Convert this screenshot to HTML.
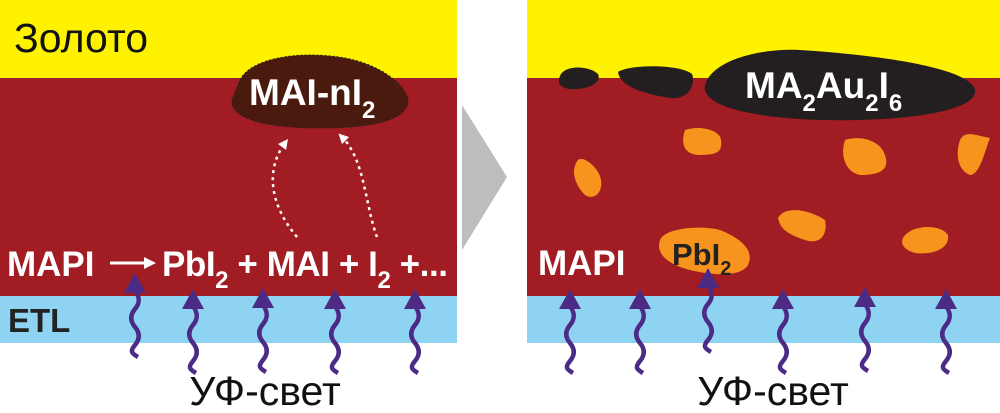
<!DOCTYPE html>
<html><head><meta charset="utf-8"><style>
html,body{margin:0;padding:0;background:#fff}
svg{display:block}
text{font-family:"Liberation Sans",Arial,sans-serif}
</style></head><body>
<svg width="1000" height="413" viewBox="0 0 1000 413" xmlns="http://www.w3.org/2000/svg">
<defs>
<g id="uv">
<path d="M0 17 C5 24,5 30,0 36 S-5 48,0 54 S5 66,0 72 S-4 80,3 84" fill="none" stroke="#4b2b86" stroke-width="4.5"/>
<polygon points="0,0 -11,20 11,20" fill="#4b2b86"/>
</g>
<marker id="ah" markerWidth="4" markerHeight="4" refX="2" refY="2" orient="auto"><path d="M0,0 L4,2 L0,4 Z" fill="#fff"/></marker>
</defs>
<rect x="0" y="0" width="457" height="78" fill="#fff200"/>
<rect x="0" y="78" width="457" height="218" fill="#a11c23"/>
<rect x="0" y="296" width="457" height="47" fill="#8fd3f3"/>
<rect x="527" y="0" width="473" height="78" fill="#fff200"/>
<rect x="527" y="78" width="473" height="218" fill="#a11c23"/>
<rect x="527" y="296" width="473" height="47" fill="#8fd3f3"/>
<polygon points="462,105 507,177 462,250" fill="#bcbdbf"/>
<text x="14" y="52" font-size="41" fill="#111">Золото</text>
<path d="M240 80 C250 60,290 52,330 56 C380 60,410 88,408 103 C405 118,380 128,320 128 C270 128,230 120,232 100 Z" fill="#4a1a0f" stroke="#222" stroke-width="1" stroke-dasharray="2 2"/>
<text x="249" y="105" font-size="37" font-weight="bold" fill="#fff">MAI-nI<tspan font-size="24" dy="13">2</tspan></text>
<path d="M297 237 C270 205,265 170,285 143" fill="none" stroke="#fff" stroke-width="2.5" stroke-dasharray="3 4" marker-end="url(#ah)"/>
<path d="M377 237 C365 205,365 160,342 137" fill="none" stroke="#fff" stroke-width="2.5" stroke-dasharray="3 4" marker-end="url(#ah)"/>
<text x="7" y="276" font-size="35" font-weight="bold" fill="#fff">MAPI</text>
<line x1="110" y1="263" x2="146" y2="263" stroke="#fff" stroke-width="3"/>
<polygon points="144,257 156,263 144,269" fill="#fff"/>
<text x="162" y="276" font-size="35" font-weight="bold" fill="#fff" textLength="286">PbI<tspan font-size="24" dy="12">2</tspan><tspan dy="-12"> + MAI + I</tspan><tspan font-size="24" dy="12">2</tspan><tspan dy="-12"> +...</tspan></text>
<text x="8" y="332" font-size="33" font-weight="bold" fill="#222">ETL</text>
<use href="#uv" x="135" y="273"/>
<use href="#uv" x="193" y="289"/>
<use href="#uv" x="263" y="288"/>
<use href="#uv" x="335" y="289"/>
<use href="#uv" x="415" y="289"/>
<text x="265" y="405" font-size="41" fill="#111" text-anchor="middle">УФ-свет</text>
<path d="M560 76 C565 64,590 66,598 74 C602 82,590 90,570 89 C560 88,557 82,560 76 Z" fill="#231f20"/>
<path d="M618 72 C630 64,680 64,692 74 C696 85,688 100,670 98 C650 95,620 88,618 72 Z" fill="#231f20"/>
<path d="M705 85 C712 60,760 48,800 50 C880 55,970 68,975 90 C978 112,900 122,820 120 C760 118,700 108,705 85 Z" fill="#231f20"/>
<text x="745" y="98" font-size="37" font-weight="bold" fill="#fff">MA<tspan font-size="24" dy="13">2</tspan><tspan dy="-13">Au</tspan><tspan font-size="24" dy="13">2</tspan><tspan dy="-13">I</tspan><tspan font-size="24" dy="13">6</tspan></text>
<g fill="#f7941d">
<path d="M685 130 C700 125,720 130,721 140 C722 150,720 155,700 155 C685 155,680 145,685 130 Z"/>
<path d="M578 160 C585 155,600 170,601 180 C603 195,592 200,585 195 C575 185,570 170,578 160 Z"/>
<path d="M845 140 C860 135,880 140,885 155 C890 170,880 175,860 175 C845 172,840 155,845 140 Z"/>
<path d="M960 140 C965 130,975 135,990 138 C985 150,980 175,970 175 C958 170,955 155,960 140 Z"/>
<path d="M778 218 C785 205,810 210,825 220 C828 235,820 245,805 240 C790 235,780 230,778 218 Z"/>
<path d="M903 238 C910 225,940 223,948 235 C950 250,930 255,915 253 C905 250,900 245,903 238 Z"/>
<path d="M660 240 C665 228,700 225,720 230 C740 238,755 250,748 265 C740 278,710 275,690 270 C670 265,655 255,660 240 Z"/>
</g>
<text x="672" y="265" font-size="31" font-weight="bold" fill="#222">PbI<tspan font-size="20" dy="10">2</tspan></text>
<text x="538" y="275" font-size="35" font-weight="bold" fill="#fff">MAPI</text>
<use href="#uv" x="570" y="289"/>
<use href="#uv" x="640" y="289"/>
<use href="#uv" x="708" y="268"/>
<use href="#uv" x="783" y="289"/>
<use href="#uv" x="865" y="287"/>
<use href="#uv" x="946" y="289"/>
<text x="773" y="405" font-size="41" fill="#111" text-anchor="middle">УФ-свет</text>
</svg>
</body></html>
